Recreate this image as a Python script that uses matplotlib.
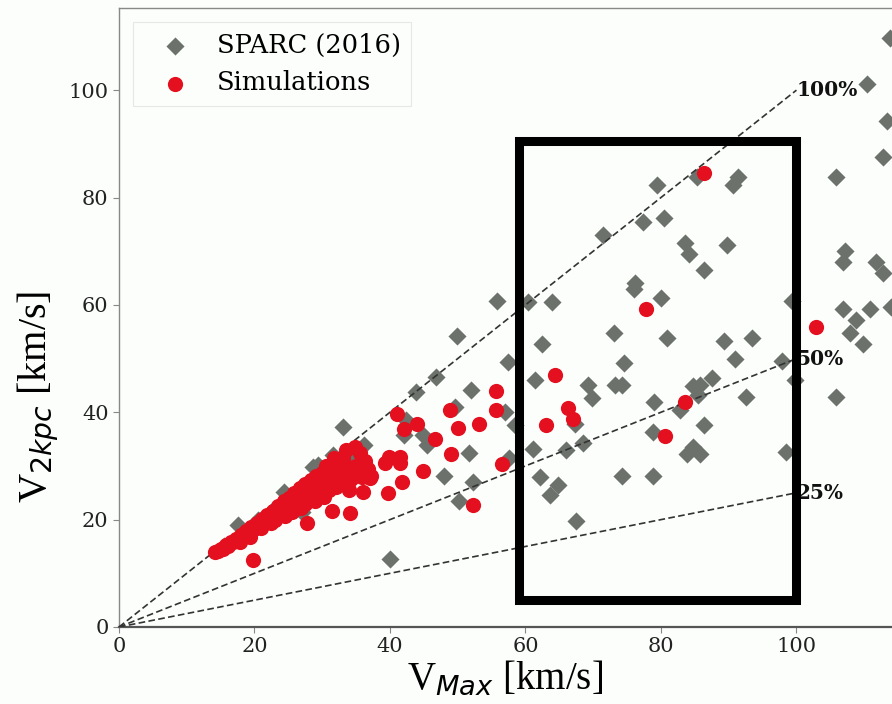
import matplotlib
matplotlib.use("Agg")
import matplotlib.pyplot as plt
from matplotlib.patches import Rectangle

# ---------------- data ----------------
sparc_x = [113.8, 110.4, 113.4, 112.7, 105.8, 91.4, 90.7, 85.3, 79.4, 77.4, 80.5, 71.4,
           83.6, 84.2, 89.8, 86.4, 107.2, 106.8, 111.8, 112.7, 55.8, 60.4, 63.9, 76.1,
           76.0, 80.0, 99.4, 106.8, 110.8, 108.8, 107.9, 109.8, 114.0, 73.1, 80.9, 62.5,
           89.3, 93.4, 90.9, 97.8, 57.4, 74.5, 61.4, 69.3, 69.8, 73.2, 74.2, 78.9, 82.8,
           84.8, 85.5, 87.5, 85.8, 92.6, 99.8, 105.8, 57.0, 58.5, 67.3, 61.1, 66.0, 68.5,
           78.8, 86.3, 83.8, 84.8, 85.8, 98.5, 57.5, 62.1, 63.6, 64.8, 74.3, 78.8, 67.5,
           49.9, 46.8, 43.9, 51.9, 49.6, 42.4, 42.0, 44.9, 45.4, 51.6, 48.0, 52.2, 50.2,
           33.0, 36.1, 40.0,
           17.6, 24.3, 28.7, 27.0, 29.4, 31.6, 15.5, 20.5, 22.5, 26.0, 30.5, 32.5, 34.5, 19.0]
sparc_y = [109.7, 101.2, 94.3, 87.6, 83.8, 83.9, 82.3, 83.9, 82.3, 75.4, 76.2, 73.1,
           71.6, 69.5, 71.1, 66.5, 70.1, 68.0, 68.0, 65.9, 60.7, 60.5, 60.5, 64.0,
           62.9, 61.2, 60.7, 59.2, 59.2, 57.2, 54.7, 52.7, 59.6, 54.7, 53.9, 52.8,
           53.3, 53.9, 50.0, 49.6, 49.3, 49.1, 46.0, 45.1, 42.6, 45.1, 45.1, 42.0, 40.4,
           44.8, 43.2, 46.3, 45.1, 42.9, 46.1, 42.8, 40.1, 37.6, 37.9, 33.1, 33.0, 34.2,
           36.4, 37.6, 32.3, 33.6, 32.3, 32.6, 31.4, 28.0, 24.6, 26.4, 28.1, 28.1, 19.8,
           54.2, 46.5, 43.8, 44.1, 41.0, 38.5, 35.8, 35.8, 33.9, 32.5, 28.2, 27.1, 23.5,
           37.3, 33.9, 12.7,
           19.0, 25.2, 29.8, 21.5, 30.2, 32.0, 15.0, 20.0, 21.5, 24.5, 28.0, 29.5, 31.5, 17.5]

sim_x = [14.2, 14.6, 15.0, 15.4, 15.8, 16.1, 16.5, 16.9, 17.2, 17.6, 18.0, 18.3, 18.7,
         19.1, 19.5, 19.9, 20.3, 20.7, 21.1, 21.5, 21.9, 22.3, 22.7, 23.1, 23.5, 23.9,
         24.3, 24.7, 25.1, 25.5, 25.9, 26.3, 26.7, 27.1, 27.5, 27.9, 28.3, 28.7, 29.1,
         29.5, 29.9, 30.3, 30.7, 31.1, 31.5, 31.9, 32.3, 32.7, 33.1, 28.0, 29.8, 31.0,
         26.0, 24.0, 30.5, 31.8, 33.5, 34.8, 35.5, 36.3, 36.8, 35.0, 33.8, 37.2, 34.2, 35.8,
         21.0, 22.5, 23.0, 24.5, 25.5, 26.8, 27.5, 29.0, 30.2, 32.0, 33.0, 19.3, 17.8,
         19.8, 27.7, 31.5, 34.1, 34.0, 36.0, 37.0, 39.7, 41.7, 39.9, 41.5, 39.3, 41.5,
         44.9, 41.1, 42.1, 44.0, 46.6, 48.9, 50.1, 53.2, 49.0, 52.3, 55.7, 55.6, 56.6,
         64.4, 63.1, 66.3, 67.0, 80.6, 83.5, 77.8, 86.3, 102.9]
sim_y = [13.9, 14.1, 14.6, 14.5, 15.2, 15.0, 15.9, 15.8, 16.4, 16.3, 17.2, 16.9, 17.8,
         17.6, 18.6, 18.3, 19.3, 19.0, 20.2, 19.7, 20.9, 20.4, 21.7, 21.0, 22.6, 21.8,
         23.4, 22.4, 24.1, 23.0, 25.0, 23.8, 25.9, 24.4, 26.6, 25.2, 27.3, 25.8, 28.1,
         26.4, 28.7, 27.1, 29.3, 27.6, 30.0, 28.3, 30.8, 29.0, 31.5, 23.8, 24.8, 25.5,
         22.5, 20.8, 30.0, 31.4, 33.0, 33.5, 32.5, 31.0, 29.5, 30.0, 29.8, 28.2, 27.5, 28.0,
         18.4, 19.4, 19.9, 20.7, 21.4, 22.2, 23.0, 23.4, 24.2, 26.0, 27.0, 16.8, 15.9,
         12.5, 19.3, 21.6, 21.3, 25.5, 25.2, 27.7, 24.9, 27.1, 31.7, 31.7, 30.5, 30.5,
         29.1, 39.7, 36.8, 37.8, 35.1, 40.4, 37.1, 37.8, 32.2, 22.7, 44.0, 40.4, 30.4,
         46.9, 37.6, 40.7, 38.8, 35.6, 42.0, 59.3, 84.5, 55.8]

ratios = [1.0, 0.5, 0.25]
ratio_labels = ["100%", "50%", "25%"]
line_x_end = 100
box_x = [59, 100]
box_y = [5, 90.5]

# ---------------- style ----------------
bg = "#fbfefb"
plt.rcParams["font.family"] = ["DejaVu Serif"]
plt.rcParams["mathtext.fontset"] = "dejavusans"

fig = plt.figure(figsize=(8.92, 7.04), dpi=100, facecolor=bg)
ax = fig.add_axes([119 / 892, 77 / 704, 773 / 892, 619 / 704], facecolor=bg)

ax.scatter(sparc_x, sparc_y, marker="D", s=85, color="#6c716c", linewidths=0,
           label="SPARC (2016)", zorder=2)
for r in ratios:
    ax.plot([0, line_x_end], [0, r * line_x_end], ls="--", color="#333333", lw=1.2,
            dashes=(4, 2), zorder=3)
ax.scatter(sim_x, sim_y, marker="o", s=120, color="#e5101f", linewidths=0,
           label="Simulations", zorder=4)

for r, lab in zip(ratios, ratio_labels):
    ax.text(line_x_end, r * line_x_end, lab, fontsize=14.5, fontweight="bold",
            ha="left", va="center", color="#111111", zorder=6)

ax.add_patch(Rectangle((box_x[0], box_y[0]), box_x[1] - box_x[0], box_y[1] - box_y[0],
                       fill=False, edgecolor="black", lw=6.5, zorder=7))

ax.set_xlim(0, 114.1)
ax.set_ylim(0, 115.3)
ax.set_xticks([0, 20, 40, 60, 80, 100])
ax.set_yticks([0, 20, 40, 60, 80, 100])
ax.tick_params(labelsize=15, colors="#222222", length=4, width=0.8)
ax.tick_params(color="#888888")
for side in ["left", "top"]:
    ax.spines[side].set_color("#888888")
    ax.spines[side].set_linewidth(1.0)
ax.spines["bottom"].set_color("#555555")
ax.spines["bottom"].set_linewidth(1.6)
ax.spines["right"].set_visible(False)

ax.set_xlabel(r"V$_{Max}$ [km/s]", fontsize=28, family="Liberation Serif", labelpad=2)
ax.set_ylabel(r"V$_{2kpc}$ [km/s]", fontsize=29, family="Liberation Serif")
ax.yaxis.set_label_coords(-0.075, 0.372)

leg = ax.legend(loc="upper left", fontsize=18.5, frameon=True, fancybox=False,
                borderaxespad=0.55, borderpad=0.4, handlelength=2.47, handletextpad=0.4,
                labelspacing=0.5, scatterpoints=1)
leg.get_frame().set_edgecolor("#e2e2e2")
leg.get_frame().set_facecolor(bg)
leg.get_frame().set_linewidth(0.8)

fig.savefig("out.png", dpi=100, facecolor=bg)
